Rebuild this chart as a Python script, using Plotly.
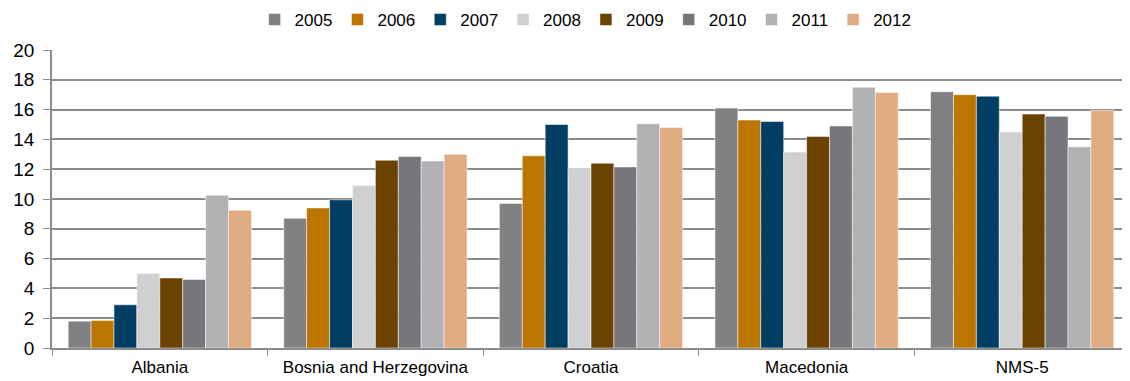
import plotly.graph_objects as go

categories = ["Albania", "Bosnia and Herzegovina", "Croatia", "Macedonia", "NMS-5"]
years = ["2005", "2006", "2007", "2008", "2009", "2010", "2011", "2012"]
v2005 = [1.8, 8.7, 9.7, 16.1, 17.2]
v2006 = [1.85, 9.4, 12.9, 15.3, 17.0]
v2007 = [2.9, 9.95, 15.0, 15.2, 16.9]
v2008 = [5.0, 10.9, 12.05, 13.15, 14.5]
v2009 = [4.7, 12.6, 12.4, 14.2, 15.7]
v2010 = [4.6, 12.85, 12.15, 14.9, 15.55]
v2011 = [10.25, 12.55, 15.05, 17.5, 13.5]
v2012 = [9.25, 13.0, 14.8, 17.15, 15.95]
values = [v2005, v2006, v2007, v2008, v2009, v2010, v2011, v2012]
colors = ["#818183", "#BC7600", "#003F63", "#CFD0D2", "#6B4200", "#77767B", "#B2B2B4", "#E0AC82"]
yticks = [0, 2, 4, 6, 8, 10, 12, 14, 16, 18, 20]

fig = go.Figure()
for yr, vals, c in zip(years, values, colors):
    fig.add_trace(go.Bar(x=categories, y=vals, name=yr, marker=dict(color=c, line=dict(width=0.5, color="white"))))

fig.update_layout(
    width=1122, height=373,
    margin=dict(l=44, r=0, t=42, b=33),
    barmode="group", bargap=0.15, bargroupgap=0,
    plot_bgcolor="white", paper_bgcolor="white",
    font=dict(family="Liberation Sans, Arial, sans-serif", color="#000000"),
    legend=dict(orientation="h", x=0.495, xanchor="center", yref="container", y=0.968, yanchor="middle",
                font=dict(size=17), itemwidth=30, traceorder="normal", itemclick=False),
    showlegend=True,
)
fig.update_xaxes(showline=True, linecolor="#8c8c8c", linewidth=1.5, ticks="outside", tickson="boundaries",
                 ticklen=6, tickcolor="#8c8c8c", tickfont=dict(size=17), showgrid=False, automargin=False,
                 ticklabelstandoff=3)
fig.update_yaxes(range=[0, 20], tickvals=yticks, showline=True, linecolor="#8c8c8c", linewidth=1.5,
                 ticks="outside", ticklen=7, tickcolor="#8c8c8c", showgrid=True, gridcolor="#8c8c8c",
                 gridwidth=1.5, tickfont=dict(size=19), zeroline=False, automargin=False,
                 ticklabelstandoff=5)
fig.write_html("out.html")
